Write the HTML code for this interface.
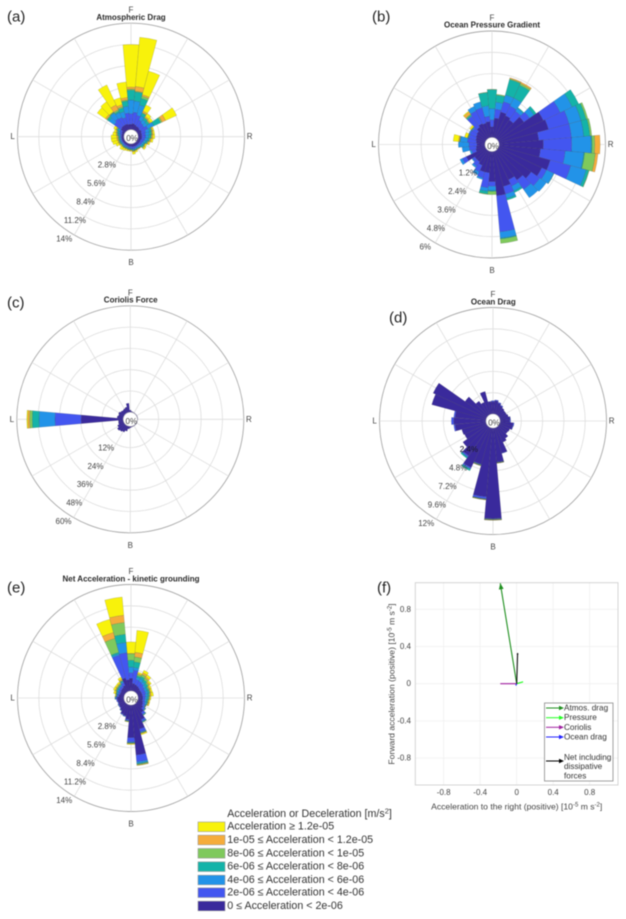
<!DOCTYPE html>
<html>
<head>
<meta charset="utf-8">
<title>Acceleration wind roses</title>
<style>
html,body{margin:0;padding:0;background:#fff;}
#figure{display:block;width:626px;height:919px;filter:blur(0.45px);font-family:"Liberation Sans",sans-serif;}
.tick{font-size:8px;fill:#444;text-anchor:middle;dominant-baseline:central;}
.title{font-size:8px;font-weight:bold;fill:#2a2a2a;text-anchor:middle;dominant-baseline:central;}
.panel-tag{font-size:15px;fill:#222;dominant-baseline:central;font-family:"Liberation Sans",sans-serif;}
.leg{font-size:10.7px;fill:#333;dominant-baseline:central;}
.fleg{font-size:8.2px;fill:#333;dominant-baseline:central;}
.axlab{font-size:8.6px;fill:#444;text-anchor:middle;}
.sw{stroke:#999;stroke-width:.6;}
</style>
</head>
<body>
<svg id="figure" xmlns="http://www.w3.org/2000/svg" width="626" height="919" viewBox="0 0 626 919">
  <g id="roses"></g>

  <text class="panel-tag" x="7" y="17">(a)</text>
  <text class="panel-tag" x="372" y="17">(b)</text>
  <text class="panel-tag" x="7" y="303">(c)</text>
  <text class="panel-tag" x="389" y="318">(d)</text>
  <text class="panel-tag" x="7" y="588">(e)</text>
  <text class="panel-tag" x="377" y="588">(f)</text>

  <text class="title" x="131" y="17.5">Atmospheric Drag</text>
  <text class="title" x="492" y="25">Ocean Pressure Gradient</text>
  <text class="title" x="130.7" y="300">Coriolis Force</text>
  <text class="title" x="493.3" y="302">Ocean Drag</text>
  <text class="title" x="131" y="579">Net Acceleration - kinetic grounding</text>

  <g id="vector-plot"></g>

  <g>
    <rect x="544.5" y="703" width="68.5" height="78" fill="#fff" stroke="#8a8a8a" stroke-width="0.8"/>
    <line x1="546" y1="708" x2="560" y2="708" stroke="#1f8f1f" stroke-width="1"/>
    <polygon points="564,708 559,705.8 559,710.2" fill="#1f8f1f"/>
    <text class="fleg" x="564" y="708">Atmos. drag</text>
    <line x1="546" y1="717.7" x2="560" y2="717.7" stroke="#22ff22" stroke-width="1"/>
    <polygon points="564,717.7 559,715.5 559,719.9" fill="#22ff22"/>
    <text class="fleg" x="564" y="717.7">Pressure</text>
    <line x1="546" y1="727.3" x2="560" y2="727.3" stroke="#a020a0" stroke-width="1"/>
    <polygon points="564,727.3 559,725.1 559,729.5" fill="#a020a0"/>
    <text class="fleg" x="564" y="727.3">Coriolis</text>
    <line x1="546" y1="737" x2="560" y2="737" stroke="#2222ff" stroke-width="1"/>
    <polygon points="564,737 559,734.8 559,739.2" fill="#2222ff"/>
    <text class="fleg" x="564" y="737">Ocean drag</text>
    <line x1="546" y1="761" x2="560" y2="761" stroke="#000" stroke-width="1"/>
    <polygon points="564,761 559,758.8 559,763.2" fill="#000"/>
    <text class="fleg" x="564" y="757.3">Net including</text>
    <text class="fleg" x="564" y="766.7">dissipative</text>
    <text class="fleg" x="564" y="776">forces</text>
  </g>

  <g>
    <text class="leg" x="227.3" y="814">Acceleration or Deceleration [m/s<tspan dy="-3.5" font-size="7.5">2</tspan><tspan dy="3.5">]</tspan></text>
    <rect class="sw" x="198" y="822" width="27" height="9.6" fill="#f8f20b"/>
    <text class="leg" x="227.3" y="826.7">Acceleration ≥ 1.2e-05</text>
    <rect class="sw" x="198" y="835.2" width="27" height="9.6" fill="#f5ac3b"/>
    <text class="leg" x="227.3" y="840">1e-05 ≤ Acceleration &lt; 1.2e-05</text>
    <rect class="sw" x="198" y="848.5" width="27" height="9.6" fill="#7fc95c"/>
    <text class="leg" x="227.3" y="853.3">8e-06 ≤ Acceleration &lt; 1e-05</text>
    <rect class="sw" x="198" y="861.9" width="27" height="9.6" fill="#14b3a8"/>
    <text class="leg" x="227.3" y="866.7">6e-06 ≤ Acceleration &lt; 8e-06</text>
    <rect class="sw" x="198" y="875.2" width="27" height="9.6" fill="#2293e8"/>
    <text class="leg" x="227.3" y="880">4e-06 ≤ Acceleration &lt; 6e-06</text>
    <rect class="sw" x="198" y="887.9" width="27" height="9.6" fill="#4356f0"/>
    <text class="leg" x="227.3" y="892.7">2e-06 ≤ Acceleration &lt; 4e-06</text>
    <rect class="sw" x="198" y="901.2" width="27" height="9.6" fill="#3a2a9c"/>
    <text class="leg" x="227.3" y="906">0 ≤ Acceleration &lt; 2e-06</text>
  </g>
</svg>

<script>
// Direction of each bin, degrees clockwise from forward
const directions = [0,10,20,30,40,50,60,70,80,90,100,110,120,130,140,150,160,170,180,190,200,210,220,230,240,250,260,270,280,290,300,310,320,330,340,350];

// Each row: cumulative percent of time at the top of each acceleration class, lowest class first
const atmosphericDragValues = [
[.7,2.1,3.9,5.2,5.35,5.6,11.2],[.8,2.3,3.8,5.0,5.1,5.7,12.2],[.7,2.0,3.4,4.3,4.6,4.8,8.0],[.6,1.5,2.1,2.5,2.6,2.8,3.7],
[.6,1.3,1.8,2.1,2.2,2.35,2.8],[.5,1.2,1.7,2.0,2.1,2.25,2.6],[.6,1.5,2.4,3.4,3.6,4.1,5.7],[.5,1.1,1.6,1.85,1.95,2.05,2.2],
[.5,1.0,1.5,1.8,1.9,2.0,2.2],[.5,1.0,1.4,1.7,1.8,1.95,2.2],[.5,.9,1.3,1.5,1.6,1.75,2.0],[.4,.8,1.1,1.3,1.4,1.5,1.7],
[.4,.7,.95,1.1,1.15,1.2,1.4],[.4,.7,.9,1.1,1.2,1.3,1.5],[.4,.6,.8,.9,.92,.95,1.0],[.4,.6,.75,.85,.9,.92,1.0],
[.4,.65,.8,.9,.95,1.0,1.2],[.4,.7,.8,.95,1.0,1.1,1.4],[.35,.6,.7,.8,.85,.9,1.0],[.35,.55,.65,.75,.8,.85,1.0],
[.3,.5,.6,.7,.75,.8,1.0],[.3,.5,.6,.7,.75,.8,1.1],[.3,.5,.6,.7,.75,.8,1.2],[.3,.45,.55,.65,.7,.75,.95],
[.3,.45,.6,.7,.8,.9,1.3],[.3,.45,.6,.7,.8,.9,1.6],[.3,.45,.6,.7,.8,.95,1.7],[.3,.45,.6,.7,.8,.95,1.7],
[.3,.5,.7,.85,.95,1.05,1.5],[.3,.6,.8,.95,1.05,1.15,1.4],[.4,.7,.95,1.1,1.2,1.3,1.6],[.7,1.8,2.6,2.9,3.0,3.2,4.5],
[.8,2.0,2.9,3.0,3.05,3.1,4.7],[.8,1.9,2.6,2.8,3.0,3.7,6.6],[.8,1.7,2.5,3.0,3.2,3.45,4.4],[.7,2.2,3.1,3.8,3.95,4.25,6.3]
];

const oceanPressureValues = [
[.6,1.0,1.64,2.7,2.72],[1.1,1.6,2.0,2.4,2.45],[1.5,2.1,2.5,3.4,3.45,3.5],[1.4,2.0,2.5,3.3,3.4,3.48],
[1.3,1.9,2.1,2.15],[1.8,2.2,2.5,2.65],[2.8,3.85,4.6,5.0],[2.9,4.1,4.8,5.1,5.2],
[2.25,4.1,4.8,5.15,5.25],[2.5,4.1,5.2,5.25,5.4,5.7],[2.35,3.75,4.8,4.85,5.45,5.6],[3.0,4.2,5.1,5.25,5.28],
[2.7,3.0,3.45,3.47],[2.3,2.9,3.35],[2.05,2.7,3.27],[1.8,2.2,2.5,2.6],
[2.05,2.5,2.75,2.85],[2.5,4.55,4.9,4.95,5.2],[1.7,1.96,2.2,2.25,2.43],[1.2,2.05,2.25,2.4,2.43],
[1.2,1.55,1.65],[.9,1.3,1.5],[.8,1.1,1.2],[.8,.95,1.0],
[1.2,1.45,1.6],[.55,.8,.9],[.5,.9,1.3],[.45,.9,1.5],
[.5,1.0,1.4,1.42,1.45,1.5,1.8],[.55,.95,1.0,1.02,1.03,1.04,1.2],[.6,1.0,1.05],[.65,.95,1.0,1.02,1.03,1.05,1.15],
[.8,1.55,1.6,1.65,1.7,1.85,1.9],[.9,1.7,1.98],[.85,1.75,2.1],[.9,1.2,1.8,2.55,2.57]
];

const coriolisValues = [
[1.2],[.6],[.4],[.3],[.3],[.3],[.3],[.3],[.3],[.2],[.2],[.2],
[.3],[.3],[.3],[.3],[.4],[.5],[.8],[1.5],[3],[4],[4.5],[5],
[4],[3],[2.8],[23.8,38.5,47.5,51.3,52.8,53.8,54.4],[3.5],[3],[3.4],[2.8],[2.5],[2.8],[3.2],[5.1]
];

const oceanDragValues = [
[1.4,1.5],[1.5,1.6],[1.3,1.4],[1.1,1.2],[1.0],[.9],[.9],[1.0],[1.15,1.2],[1.1,1.2],[1.5,1.6],[1.5,1.55],
[1.3],[1.25],[1.6],[1.85],[2.95,3.0],[3.85,3.9,3.92,3.94,3.96,3.98,4.0],
[10.2,10.25,10.28,10.3,10.35,10.38,10.4],[7.8,8.0,8.05,8.08,8.1,8.12,8.15],[4.25,4.3,4.33,4.37,4.4,4.43,4.45],[5.0,5.15,5.2,5.4],[4.0,4.15,4.2,4.35],[3.35],
[2.75],[2.85],[3.5,3.65],[3.65,3.9],[3.5,3.65],[6.35],[6.65],[3.05],[1.95],[1.55],[2.65],[1.4,1.45]
];

const netAccelerationValues = [
[1.65,2.4,3.15,4.05,4.9,4.95,6.45],[1.0,2.75,3.1,3.85,4.5,5.1,8.0],[.9,1.6,1.9,2.1,2.3,2.4,2.6],[.8,1.5,1.9,2.2,2.5,2.75,3.1],
[.7,1.4,1.7,2.0,2.3,2.5,2.8],[.6,1.2,1.5,1.8,2.0,2.15,2.35],[.6,1.1,1.4,1.6,1.75,1.85,2.05],[.6,1.1,1.4,1.6,1.7,1.8,2.0],
[.6,1.0,1.3,1.5,1.6,1.75,2.05],[.6,.95,1.2,1.4,1.5,1.55,1.7],[.6,.9,1.15,1.3,1.4,1.45,1.6],[.7,1.0,1.2,1.3,1.4,1.5,1.6],
[.8,1.1,1.2,1.25,1.27,1.28,1.3],[1.0,1.3,1.4,1.45,1.5],[1.4,1.7,1.8,1.85,1.9],[2.2,2.45,2.55,2.6,2.65],
[3.3,3.7,3.8,3.85,3.9,3.95,4.1],[6.6,7.5,7.7,7.8,7.9,7.95,8.0],[4.3,4.85,4.95,5.0,5.05,5.1,5.2],[1.9,2.05,2.1,2.15,2.2,2.2,2.25],
[1.5,1.6,1.65],[1.4,1.5,1.55],[1.1,1.15,1.2],[.9,1.0],[.85,.95,1.0],[.8,.9],[.85,1.0],[.9,1.05,1.15,1.2],
[.7,.9,1.0,1.05,1.1,1.1,1.2],[.6,.85,1.0,1.1,1.15,1.2,1.45],[.6,.9,1.1,1.2,1.3,1.4,1.65],[.7,1.0,1.15,1.25,1.35,1.45,1.65],
[.75,1.05,1.2,1.3,1.4,1.5,1.7],[.9,1.3,1.5,1.6,1.7,1.85,2.1],[1.8,4.9,5.1,5.3,7.2,8.0,9.8],[1.5,5.05,6.4,7.5,9.05,10,12.4]
];

// Radial tick labels
const atmosphericTicks = [2.8,5.6,8.4,11.2,14];
const pressureTicks = [1.2,2.4,3.6,4.8,6];
const coriolisTicks = [12,24,36,48,60];
const oceanDragTicks = [2.4,4.8,7.2,9.6,12];
const netTicks = [2.8,5.6,8.4,11.2,14];

// Vector panel values, units of 1e-5 m/s^2
const vectorNames = ['atmos-drag','pressure','coriolis','ocean-drag','net'];
const vectorRight = [-0.18,0.07,-0.18,-0.01,0.01];
const vectorForward = [1.08,0.02,0,-0.02,0.33];
const vectorTicks = [-0.8,-0.4,0,0.4,0.8];

const classColors = ['#3a2a9c','#4356f0','#2293e8','#14b3a8','#7fc95c','#f5ac3b','#f8f20b'];
const vectorColors = ['#1f8f1f','#22ff22','#a020a0','#2222ff','#111111'];
const SVGNS = 'http://www.w3.org/2000/svg';

function make(tag, parent, attrs) {
  const el = document.createElementNS(SVGNS, tag);
  for (const k in attrs) el.setAttribute(k, attrs[k]);
  parent.appendChild(el);
  return el;
}

function drawRose(key, cx, cy, rows, ticks) {
  const R = 113.5, r0 = 7, maxValue = ticks[ticks.length - 1];
  const radius = v => r0 + v / maxValue * (R - r0);
  const pt = (deg, r) => {
    const a = deg * Math.PI / 180;
    return (cx + r * Math.sin(a)).toFixed(2) + ' ' + (cy - r * Math.cos(a)).toFixed(2);
  };
  const root = document.getElementById('roses');
  const g = make('g', root, {});
  
  

  ticks.forEach((t, i) => {
    const isOuter = i === ticks.length - 1;
    const ring = make('circle', g, {cx: cx, cy: cy, r: radius(t), fill: 'none', stroke: isOuter ? '#a8a8a8' : '#dedede', 'stroke-width': isOuter ? 0.9 : 0.8});
    
    
  });
  for (let s = 0; s < 12; s++) {
    const a = s * 30 * Math.PI / 180;
    const spoke = make('line', g, {
      x1: cx + r0 * Math.sin(a), y1: cy - r0 * Math.cos(a),
      x2: cx + R * Math.sin(a), y2: cy - R * Math.cos(a),
      stroke: '#dedede', 'stroke-width': 0.8
    });
    
    
  }

  directions.forEach((dir, d) => {
    const row = rows[d];
    let lower = 0;
    row.forEach((top, c) => {
      if (top <= lower) return;
      const r1 = radius(lower), r2 = radius(top);
      const a1 = dir - 5, a2 = dir + 5;
      const path = 'M' + pt(a1, r1) + ' L' + pt(a1, r2) +
        ' A' + r2.toFixed(2) + ' ' + r2.toFixed(2) + ' 0 0 1 ' + pt(a2, r2) +
        ' L' + pt(a2, r1) +
        ' A' + r1.toFixed(2) + ' ' + r1.toFixed(2) + ' 0 0 0 ' + pt(a1, r1) + ' Z';
      const bar = make('path', g, {d: path, fill: classColors[c], stroke: 'rgba(50,50,60,.35)', 'stroke-width': 0.4});
      
      
      lower = top;
    });
  });

  const hole = make('circle', g, {cx: cx, cy: cy, r: r0, fill: '#fff', stroke: '#bbb', 'stroke-width': 0.6});
  
  

  const zero = make('text', g, {class: 'tick', x: cx + 1, y: cy + 2});
  zero.textContent = '0%';
  
  

  ticks.forEach((t, i) => {
    const r = radius(t), a = 210 * Math.PI / 180;
    const label = make('text', g, {class: 'tick', x: cx + r * Math.sin(a) - 10, y: cy - r * Math.cos(a) + 4});
    label.textContent = t + '%';
    if (i === 0 && key === 'ocean-drag') label.style.fill = '#000';
    if (i === 0 && key === 'ocean-drag') label.style.stroke = 'rgba(120,110,190,.55)';
    if (i === 0 && key === 'ocean-drag') label.style.strokeWidth = '0.15';
    
    
  });

  [['F', 0, -126.5], ['R', 118.6, 0], ['B', 0, 126], ['L', -118.4, 0]].forEach(c => {
    const label = make('text', g, {class: 'tick', x: cx + c[1], y: cy + c[2]});
    label.textContent = c[0];
    
    
  });
}

drawRose('atmospheric-drag', 131, 136.7, atmosphericDragValues, atmosphericTicks);
drawRose('ocean-pressure', 492, 144.5, oceanPressureValues, pressureTicks);
drawRose('coriolis', 130.3, 419.3, coriolisValues, coriolisTicks);
drawRose('ocean-drag', 493, 421, oceanDragValues, oceanDragTicks);
drawRose('net-acceleration', 131, 698, netAccelerationValues, netTicks);

function drawVectorPlot() {
  const g = document.getElementById('vector-plot');
  const left = 415.3, right = 618, top = 582.7, bottom = 785;
  const xScale = v => 516.7 + v * 91.25;
  const yScale = v => 683.7 - v * 93;

  vectorTicks.forEach(t => {
    const vx = make('line', g, {x1: xScale(t), x2: xScale(t), y1: top, y2: bottom, stroke: '#efefef', 'stroke-width': 0.8});
    
    
    const hy = make('line', g, {x1: left, x2: right, y1: yScale(t), y2: yScale(t), stroke: '#efefef', 'stroke-width': 0.8});
    
    
    const xl = make('text', g, {class: 'tick', x: xScale(t), y: 792.7});
    xl.textContent = t === 0 ? '0' : t.toFixed(1);
    
    
    const yl = make('text', g, {class: 'tick', x: 411, y: yScale(t), style: 'text-anchor:end'});
    yl.textContent = t === 0 ? '0' : t.toFixed(1);
    
    
  });

  const box = make('rect', g, {x: left, y: top, width: right - left, height: bottom - top, fill: 'none', stroke: '#d4d4d4', 'stroke-width': 1});
  
  

  vectorNames.forEach((name, i) => {
    const x0 = xScale(0), y0 = yScale(0);
    const x1 = xScale(vectorRight[i]), y1 = yScale(vectorForward[i]);
    const len = Math.hypot(x1 - x0, y1 - y0) || 1;
    const ux = (x1 - x0) / len, uy = (y1 - y0) / len;
    const shaft = make('line', g, {x1: x0, y1: y0, x2: x1, y2: y1, stroke: vectorColors[i], 'stroke-width': 1.1});
    
    
    if (len > 30) {
      const hl = name === 'net' ? 1.5 : 6, hw = name === 'net' ? 1 : 2.4;
      const bx = x1 - ux * hl, by = y1 - uy * hl;
      const head = make('polygon', g, {
        points: x1 + ',' + y1 + ' ' + (bx - uy * hw) + ',' + (by + ux * hw) + ' ' + (bx + uy * hw) + ',' + (by - ux * hw),
        fill: vectorColors[i]
      });
      
      
    }
  });

  const xTitle = make('text', g, {class: 'axlab', x: 516.7, y: 809.5});
  
  
  xTitle.innerHTML = 'Acceleration to the right (positive) [10<tspan dy="-3" font-size="6">-5</tspan><tspan dy="3"> m s</tspan><tspan dy="-3" font-size="6">-2</tspan><tspan dy="3">]</tspan>';

  const yTitle = make('text', g, {class: 'axlab', x: 0, y: 0, transform: 'translate(394.5,684) rotate(-90)'});
  
  
  yTitle.innerHTML = 'Forward acceleration (positive) [10<tspan dy="-3" font-size="6">-5</tspan><tspan dy="3"> m s</tspan><tspan dy="-3" font-size="6">-2</tspan><tspan dy="3">]</tspan>';
}
drawVectorPlot();
</script>
</body>
</html>
